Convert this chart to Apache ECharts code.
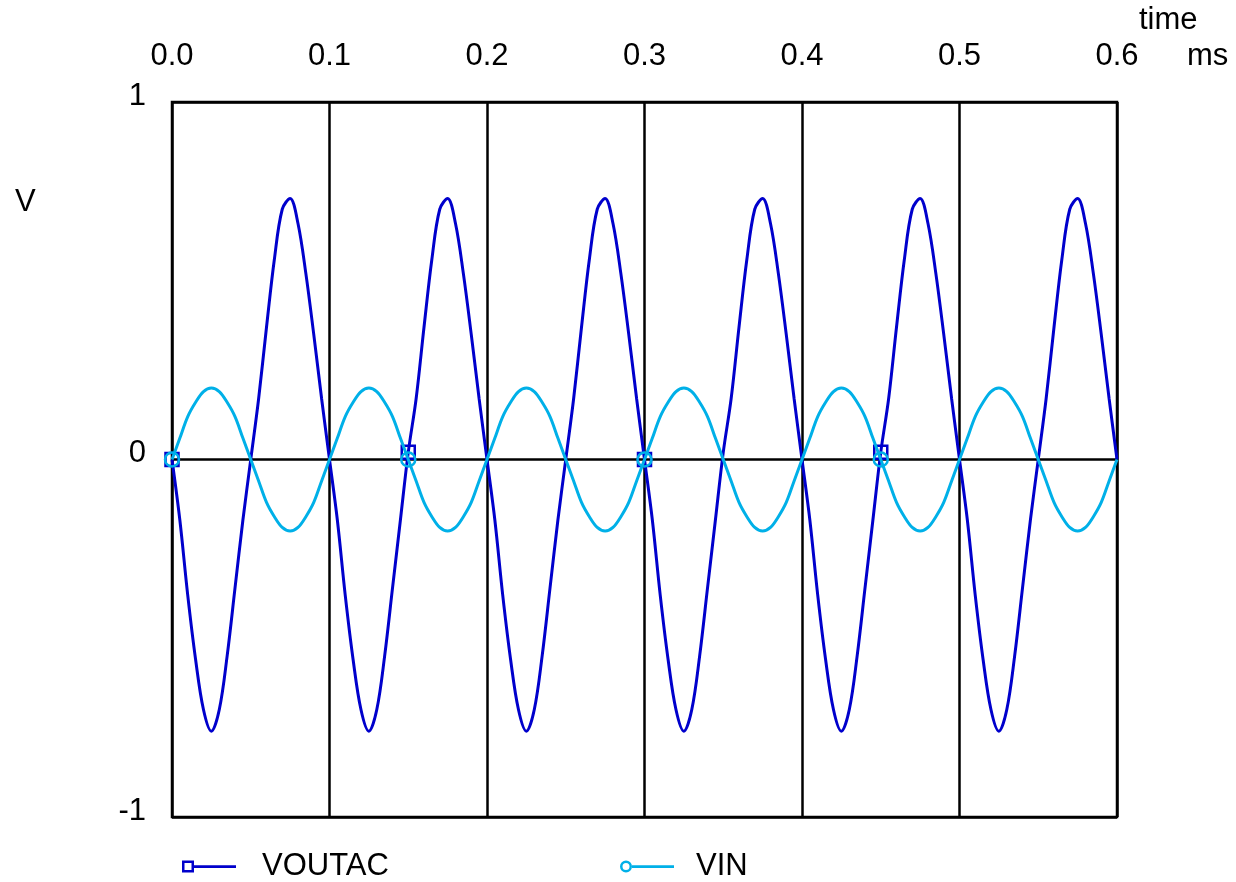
<!DOCTYPE html>
<html>
<head>
<meta charset="utf-8">
<title>VOUTAC / VIN</title>
<script src="https://cdn.jsdelivr.net/npm/echarts@6/dist/echarts.min.js"></script>
<style>
    html, body { margin: 0; padding: 0; background: #fff; }
    #chart { width: 1236px; height: 882px; }
</style>
</head>
<body>
<div id="chart"></div>
<script>

// Data
// ------------------------------

// time, ms
var timeMs = [
    0.000, 0.005, 0.010, 0.015, 0.020, 0.025, 0.030, 0.035, 0.040, 0.045,
    0.050, 0.055, 0.060, 0.065, 0.070, 0.075, 0.080, 0.085, 0.090, 0.095,
    0.100, 0.105, 0.110, 0.115, 0.120, 0.125, 0.130, 0.135, 0.140, 0.145,
    0.150, 0.155, 0.160, 0.165, 0.170, 0.175, 0.180, 0.185, 0.190, 0.195,
    0.200, 0.205, 0.210, 0.215, 0.220, 0.225, 0.230, 0.235, 0.240, 0.245,
    0.250, 0.255, 0.260, 0.265, 0.270, 0.275, 0.280, 0.285, 0.290, 0.295,
    0.300, 0.305, 0.310, 0.315, 0.320, 0.325, 0.330, 0.335, 0.340, 0.345,
    0.350, 0.355, 0.360, 0.365, 0.370, 0.375, 0.380, 0.385, 0.390, 0.395,
    0.400, 0.405, 0.410, 0.415, 0.420, 0.425, 0.430, 0.435, 0.440, 0.445,
    0.450, 0.455, 0.460, 0.465, 0.470, 0.475, 0.480, 0.485, 0.490, 0.495,
    0.500, 0.505, 0.510, 0.515, 0.520, 0.525, 0.530, 0.535, 0.540, 0.545,
    0.550, 0.555, 0.560, 0.565, 0.570, 0.575, 0.580, 0.585, 0.590, 0.595,
    0.600
];

// VOUTAC, V
var voutac = [
    0, -0.17, -0.38, -0.56, -0.70, -0.76, -0.70, -0.55, -0.36, -0.17,
    0, 0.17, 0.37, 0.56, 0.70, 0.73, 0.66, 0.52, 0.35, 0.17,
    0, -0.17, -0.38, -0.56, -0.70, -0.76, -0.70, -0.55, -0.36, -0.17,
    0.02, 0.17, 0.37, 0.56, 0.70, 0.73, 0.66, 0.52, 0.35, 0.17,
    0, -0.17, -0.38, -0.56, -0.70, -0.76, -0.70, -0.55, -0.36, -0.17,
    0, 0.17, 0.37, 0.56, 0.70, 0.73, 0.66, 0.52, 0.35, 0.17,
    0, -0.17, -0.38, -0.56, -0.70, -0.76, -0.70, -0.55, -0.36, -0.17,
    0.02, 0.17, 0.37, 0.56, 0.70, 0.73, 0.66, 0.52, 0.35, 0.17,
    0, -0.17, -0.38, -0.56, -0.70, -0.76, -0.70, -0.55, -0.36, -0.17,
    0.02, 0.17, 0.37, 0.56, 0.70, 0.73, 0.66, 0.52, 0.35, 0.17,
    0, -0.17, -0.38, -0.56, -0.70, -0.76, -0.70, -0.55, -0.36, -0.17,
    0, 0.17, 0.37, 0.56, 0.70, 0.73, 0.66, 0.52, 0.35, 0.17,
    0
];

// VIN, V
var vin = [
    0, 0.06, 0.12, 0.16, 0.19, 0.20, 0.19, 0.16, 0.12, 0.06,
    0, -0.06, -0.12, -0.16, -0.19, -0.20, -0.19, -0.16, -0.12, -0.06,
    0, 0.06, 0.12, 0.16, 0.19, 0.20, 0.19, 0.16, 0.12, 0.06,
    0, -0.06, -0.12, -0.16, -0.19, -0.20, -0.19, -0.16, -0.12, -0.06,
    0, 0.06, 0.12, 0.16, 0.19, 0.20, 0.19, 0.16, 0.12, 0.06,
    0, -0.06, -0.12, -0.16, -0.19, -0.20, -0.19, -0.16, -0.12, -0.06,
    0, 0.06, 0.12, 0.16, 0.19, 0.20, 0.19, 0.16, 0.12, 0.06,
    0, -0.06, -0.12, -0.16, -0.19, -0.20, -0.19, -0.16, -0.12, -0.06,
    0, 0.06, 0.12, 0.16, 0.19, 0.20, 0.19, 0.16, 0.12, 0.06,
    0, -0.06, -0.12, -0.16, -0.19, -0.20, -0.19, -0.16, -0.12, -0.06,
    0, 0.06, 0.12, 0.16, 0.19, 0.20, 0.19, 0.16, 0.12, 0.06,
    0, -0.06, -0.12, -0.16, -0.19, -0.20, -0.19, -0.16, -0.12, -0.06,
    0
];

// sample indexes that carry a marker (t = 0, 0.15, 0.3, 0.45 ms)
var markerIndex = [0, 30, 60, 90];

var seriesNames = ['VOUTAC', 'VIN'];


// Chart
// ------------------------------

var FONT = '"Liberation Sans", Arial, sans-serif';
var FS = 31;
var C_OUT = '#0000cc';
var C_IN = '#00b0e8';

function pairs(ys) {
    return ys.map(function(y, i) { return [timeMs[i], y]; });
}

function markerSymbol(shape) {
    return function(value, params) {
        return markerIndex.indexOf(params.dataIndex) >= 0 ? shape : 'none';
    };
}

var chart = echarts.init(document.getElementById('chart'), null, { renderer: 'canvas' });

chart.setOption({
    animation: false,
    backgroundColor: '#fff',
    textStyle: { fontFamily: FONT },

    grid: {
        left: 172,
        right: 119,
        top: 102,
        bottom: 65,
        show: true,
        borderColor: '#000',
        borderWidth: 2.5
    },

    legend: [
        {
            data: [{
                name: seriesNames[0],
                icon: 'path://M0,0 L12,0 L12,12 L0,12 Z M2.5,2.5 L2.5,9.5 L9.5,9.5 L9.5,2.5 Z M12,4.8 L54,4.8 L54,7.4 L12,7.4 Z',
                itemStyle: { color: C_OUT, borderWidth: 0 }
            }],
            left: 177,
            top: 846,
            itemWidth: 54,
            itemHeight: 12,
            textStyle: { fontSize: FS, color: '#000', padding: [0, 0, 0, 21] }
        },
        {
            data: [{
                name: seriesNames[1],
                icon: 'path://M0,6 A6,6 0 1,1 12,6 A6,6 0 1,1 0,6 Z M2.5,6 A3.5,3.5 0 1,0 9.5,6 A3.5,3.5 0 1,0 2.5,6 Z M12,4.8 L54,4.8 L54,7.4 L12,7.4 Z',
                itemStyle: { color: C_IN, borderWidth: 0 }
            }],
            left: 615,
            top: 846,
            itemWidth: 54,
            itemHeight: 12,
            textStyle: { fontSize: FS, color: '#000', padding: [0, 0, 0, 17] }
        }
    ],

    xAxis: {
        type: 'value',
        position: 'top',
        min: 0,
        max: 0.6,
        interval: 0.1,
        axisLine: { show: false },
        axisTick: { show: false },
        axisLabel: {
            color: '#000',
            fontSize: FS,
            margin: 30,
            formatter: function(v) { return v.toFixed(1); }
        },
        splitLine: { lineStyle: { color: '#000', width: 2.5 } }
    },

    yAxis: {
        type: 'value',
        min: -1,
        max: 1,
        interval: 1,
        axisLine: { show: false },
        axisTick: { show: false },
        axisLabel: {
            color: '#000',
            fontSize: FS,
            margin: 26,
            verticalAlign: 'bottom',
            lineHeight: 12
        },
        splitLine: { lineStyle: { color: '#000', width: 2.5 } }
    },

    graphic: [
        { type: 'text', left: 1139, top: 5, style: { text: 'time', fontSize: FS, fontFamily: FONT, fill: '#000' } },
        { type: 'text', left: 1187, top: 41, style: { text: 'ms', fontSize: FS, fontFamily: FONT, fill: '#000' } },
        { type: 'text', left: 15, top: 187, style: { text: 'V', fontSize: FS, fontFamily: FONT, fill: '#000' } }
    ],

    series: [
        {
            name: seriesNames[0],
            type: 'line',
            data: pairs(voutac),
            smooth: 0.35,
            showAllSymbol: true,
            symbol: markerSymbol('rect'),
            symbolSize: 13,
            color: C_OUT,
            itemStyle: { color: 'rgba(0,0,0,0)', borderColor: C_OUT, borderWidth: 2.5 },
            lineStyle: { color: C_OUT, width: 3 },
            z: 3
        },
        {
            name: seriesNames[1],
            type: 'line',
            data: pairs(vin),
            smooth: 0.35,
            showAllSymbol: true,
            symbol: markerSymbol('circle'),
            symbolSize: 14,
            color: C_IN,
            itemStyle: { color: 'rgba(0,0,0,0)', borderColor: C_IN, borderWidth: 2.5 },
            lineStyle: { color: C_IN, width: 3 },
            z: 4
        }
    ]
});

window.addEventListener('resize', function() {
    chart.resize();
});
</script>
</body>
</html>
